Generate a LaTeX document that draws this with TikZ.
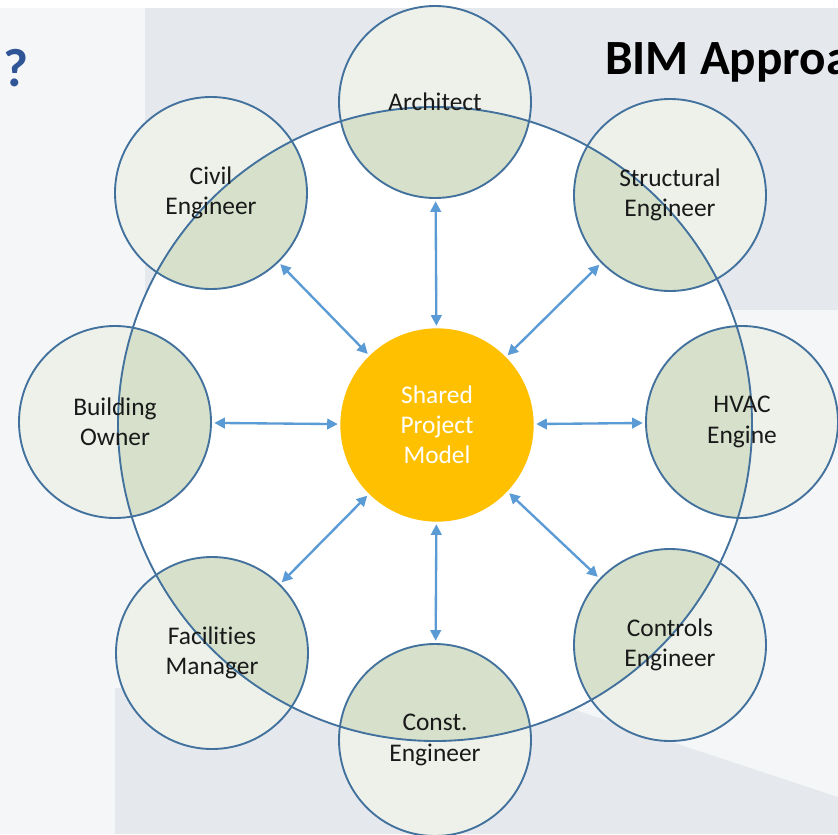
\documentclass[tikz,border=0pt]{standalone}
\usepackage{fontspec}
\setmainfont[Ligatures=NoCommon]{Carlito}
\usetikzlibrary{arrows.meta}
\definecolor{bgpale}{HTML}{F5F6F8}
\definecolor{bggrey}{HTML}{E5E8EC}
\definecolor{rimblue}{HTML}{41719C}
\definecolor{linkblue}{HTML}{5B9BD5}
\definecolor{sagepale}{HTML}{EDF1EA}
\definecolor{sage}{HTML}{D6E0CB}
\definecolor{modelgold}{HTML}{FFC000}
\definecolor{titleblue}{HTML}{2F5597}
\begin{document}
\begin{tikzpicture}[x=0.03cm,y=0.03cm,
    role/.style={circle,draw=rimblue,line width=1.6pt,minimum size=5.76cm,inner sep=0pt,align=center,text=black!90,font=\fontsize{21.7}{26}\selectfont},
    hub/.style={circle,fill=modelgold,minimum size=5.8cm,inner sep=0pt,align=center,text=white,font=\fontsize{21.7}{25.6}\selectfont},
    link/.style={{Triangle[length=9pt,width=9pt]}-{Triangle[length=9pt,width=9pt]},linkblue,line width=2pt,shorten <=2pt,shorten >=2pt}]
        \useasboundingbox (0,0) rectangle (838,-834);
        \clip (0,0) rectangle (838,-834);
        \fill [bgpale] (0,0) rectangle (838,-834);
        \fill [white] (0,0) rectangle (838,-8);
        \fill [bggrey] (145,-8) rectangle (838,-310);
        \fill [bggrey] (115,-688) -- (560,-705) -- (838,-797) -- (838,-834) -- (115,-834) -- cycle;
        \node [anchor=base west,text=titleblue,font=\bfseries\fontsize{46}{52}\selectfont] (qmark) at (-1,-86) {?};
        \node [anchor=base west,text=black,font=\bfseries\fontsize{42}{50}\selectfont] (title) at (601,-74) {BIM Approach};
        \coordinate (c-arch) at (435,-102);
        \coordinate (c-struct) at (670,-195);
        \coordinate (c-hvac) at (742,-422);
        \coordinate (c-ctrl) at (670,-645);
        \coordinate (c-const) at (435,-740);
        \coordinate (c-fac) at (212,-653);
        \coordinate (c-owner) at (115,-422);
        \coordinate (c-civil) at (211,-193);
        \fill [white] (435,-424) circle (317);
        \foreach \n in {arch,struct,hvac,ctrl,const,fac,owner,civil}
            \fill [sagepale] (c-\n) circle (96);
        \begin{scope}
            \clip (435,-424) circle (317);
            \foreach \n in {arch,struct,hvac,ctrl,const,fac,owner,civil}
                \fill [sage] (c-\n) circle (96);
        \end{scope}
        \draw [rimblue,line width=1.6pt] (435,-424) circle (317);
        \node [role] (arch) at (c-arch) {Architect};
        \node [role] (struct) at (c-struct) {Structural\\Engineer};
        \node [role] (hvac) at (c-hvac) {HVAC\\Engine};
        \node [role] (ctrl) at (c-ctrl) {Controls\\Engineer};
        \node [role] (const) at (c-const) {Const.\\Engineer};
        \node [role] (fac) at (c-fac) {Facilities\\Manager};
        \node [role] (owner) at (c-owner) {Building\\Owner};
        \node [role] (civil) at (c-civil) {Civil\\Engineer};
        \node [hub] (model) at (437,-425) {Shared\\Project\\Model};
        \foreach \n in {arch,struct,hvac,ctrl,const,fac,owner,civil}
            \draw [link] (\n) -- (model);
\end{tikzpicture}
\end{document}
